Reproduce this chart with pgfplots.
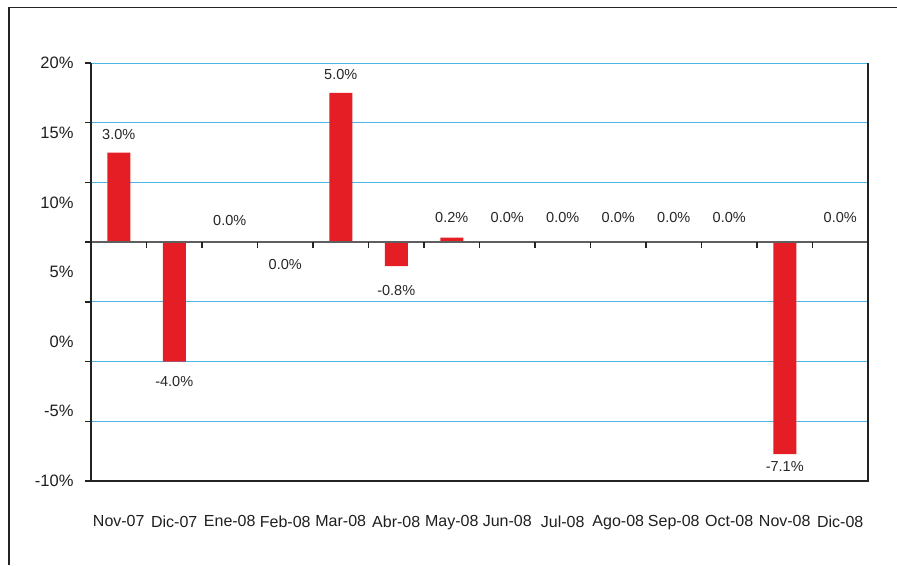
\documentclass[border=0pt]{standalone}
\usepackage{pgfplots}
\pgfplotsset{compat=1.18}
\usepackage{fontspec}
\setmainfont{Liberation Sans}
\definecolor{barred}{RGB}{228,30,36}
\definecolor{gridblue}{RGB}{75,182,230}
\definecolor{frame}{RGB}{35,35,35}
\definecolor{zline}{RGB}{95,95,95}
\newcommand{\ytfont}{\fontsize{16.5}{16.5}\selectfont}
\newcommand{\xtfont}{\fontsize{16}{16}\selectfont}
\newcommand{\dlfont}{\fontsize{14.5}{14.5}\selectfont}
\begin{document}
\begin{tikzpicture}[x=1pt,y=1pt]
\useasboundingbox (0,0) rectangle (897,565);
\draw[frame, line width=1.5pt] (9,0) -- (9,557.5) -- (897,557.5);
\begin{axis}[
  at={(91pt,84pt)}, anchor=south west,
  scale only axis, width=777pt, height=418pt,
  xmin=-0.5, xmax=13.5, ymin=-8, ymax=6,
  ybar, bar width=23pt, bar shift=0pt,
  clip=false,
  axis line style={draw=none},
  ytick pos=left,
  ytick={-8,-6,...,6}, yticklabels={},
  ymajorgrids, grid style={gridblue, line width=0.9pt},
  ytick style={draw=frame, line width=1.3pt},
  major tick length=6pt, tick align=outside,
  xtick={0,...,13},
  xticklabels={Nov-07,Dic-07,Ene-08,Feb-08,Mar-08,Abr-08,May-08,Jun-08,Jul-08,Ago-08,Sep-08,Oct-08,Nov-08,Dic-08},
  xtick style={draw=none},
  x tick label style={font=\xtfont, text=black!88, yshift=-25pt},
  extra y ticks={6,3.6667,1.3333,-1,-3.3333,-5.6667,-8},
  extra y tick labels={20\%,15\%,10\%,5\%,0\%,-5\%,-10\%},
  extra y tick style={grid=none, major tick length=0pt, yticklabel style={font=\ytfont, text=black!88, xshift=-14pt}},
]
\addplot[fill=barred, draw=none,
  nodes near coords, point meta=explicit symbolic,
  visualization depends on={value \thisrow{d} \as \dd},
  nodes near coords style={font=\dlfont, text=black!85, inner sep=0pt, anchor=center, yshift=\dd pt}]
table[x=x, y=y, meta=lab] {
x  y      d     lab
0  3.0    18    3.0\%
1  -4.0   -20   -4.0\%
2  0      22    0.0\%
3  -0.001 -22   0.0\%
4  5.0    18    5.0\%
5  -0.8   -24.5 -0.8\%
6  0.15   20.5  0.2\%
7  0      24.5  0.0\%
8  0      24.5  0.0\%
9  0      24.5  0.0\%
10 0      24.5  0.0\%
11 0      24.5  0.0\%
12 -7.1   -12   -7.1\%
13 0      24.5  0.0\%
};
\draw[zline, line width=1.4pt] (axis cs:-0.5,0) -- (axis cs:13.5,0);
\draw[frame, line width=1.3pt] (axis cs:0.5,0) -- ++(0pt,-6pt);
\draw[frame, line width=1.3pt] (axis cs:1.5,0) -- ++(0pt,-6pt);
\draw[frame, line width=1.3pt] (axis cs:2.5,0) -- ++(0pt,-6pt);
\draw[frame, line width=1.3pt] (axis cs:3.5,0) -- ++(0pt,-6pt);
\draw[frame, line width=1.3pt] (axis cs:4.5,0) -- ++(0pt,-6pt);
\draw[frame, line width=1.3pt] (axis cs:5.5,0) -- ++(0pt,-6pt);
\draw[frame, line width=1.3pt] (axis cs:6.5,0) -- ++(0pt,-6pt);
\draw[frame, line width=1.3pt] (axis cs:7.5,0) -- ++(0pt,-6pt);
\draw[frame, line width=1.3pt] (axis cs:8.5,0) -- ++(0pt,-6pt);
\draw[frame, line width=1.3pt] (axis cs:9.5,0) -- ++(0pt,-6pt);
\draw[frame, line width=1.3pt] (axis cs:10.5,0) -- ++(0pt,-6pt);
\draw[frame, line width=1.3pt] (axis cs:11.5,0) -- ++(0pt,-6pt);
\draw[frame, line width=1.3pt] (axis cs:12.5,0) -- ++(0pt,-6pt);
\draw[frame, line width=1.6pt] (rel axis cs:0,1) -- (rel axis cs:0,0) -- (rel axis cs:1,0) -- (rel axis cs:1,1);
\end{axis}
\end{tikzpicture}
\end{document}
